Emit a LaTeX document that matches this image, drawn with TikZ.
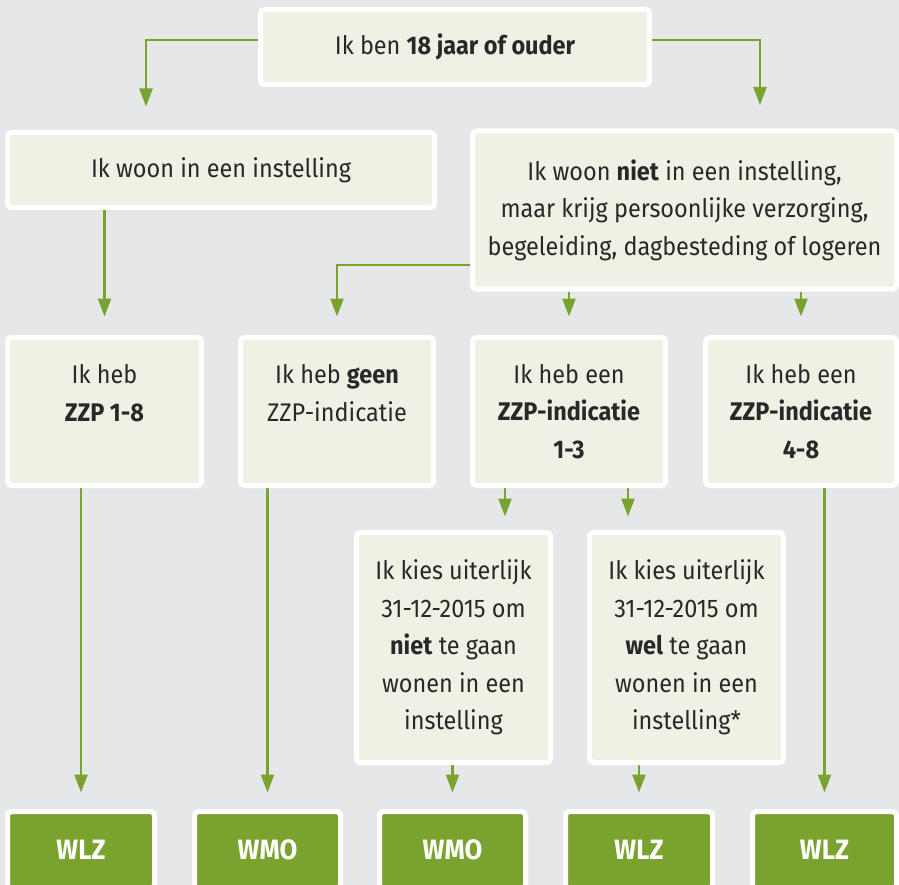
\documentclass[tikz,border=0pt]{standalone}
\usepackage{fontspec}
\setmainfont{Fira Sans}[FakeStretch=0.92]
\usetikzlibrary{arrows.meta}
\definecolor{bgc}{HTML}{E6E7E9}
\definecolor{boxc}{HTML}{EEF1E4}
\definecolor{grn}{HTML}{7AA22F}
\definecolor{txt}{HTML}{2B2728}
\pgfdeclarelayer{bglayer}
\pgfdeclarelayer{connlayer}
\pgfsetlayers{bglayer,connlayer,main}
\begin{document}
\begin{tikzpicture}[x=1pt,y=-1pt,
  box/.style={rectangle, draw=white, line width=5pt, fill=boxc, rounded corners=4pt, inner sep=0pt, align=center, text=txt, font=\fontsize{25.5}{37.5}\selectfont},
  res/.style={box, fill=grn, text=white, font=\fontsize{28}{30}\selectfont\bfseries},
  conn/.style={draw=grn, line width=2.5pt, -{Triangle[width=13pt,length=18pt]}},
]
\useasboundingbox (0,0) rectangle (899,885);
\begin{pgfonlayer}{bglayer}
\fill[bgc] (0,0) rectangle (899,885);
\end{pgfonlayer}

\node[box, minimum width=389pt, minimum height=75pt] (top) at (455,47) {Ik ben \textbf{18 jaar of ouder}};
\node[box, minimum width=427pt, minimum height=75pt] (woon) at (221,170) {Ik woon in een instelling};
\node[box, minimum width=424pt, minimum height=158pt] (niet) at (684.5,210) {Ik woon \textbf{niet} in een instelling,\\maar krijg persoonlijke verzorging,\\begeleiding, dagbesteding of logeren};

\node[box, minimum width=194pt, minimum height=148pt] (A) at (104.5,411.5) {Ik heb\\\textbf{ZZP 1-8}\\\mbox{}};
\node[box, minimum width=193pt, minimum height=148pt] (B) at (337,411.5) {Ik heb \textbf{geen}\\ZZP-indicatie\\\mbox{}};
\node[box, minimum width=193pt, minimum height=148pt] (C) at (569,411.5) {Ik heb een\\\textbf{ZZP-indicatie}\\\textbf{1-3}};
\node[box, minimum width=191pt, minimum height=148pt] (D) at (801,411.5) {Ik heb een\\\textbf{ZZP-indicatie}\\\textbf{4-8}};

\node[box, minimum width=194pt, minimum height=230pt] (E) at (453.5,647.5) {Ik kies uiterlijk\\31-12-2015 om\\\textbf{niet} te gaan\\wonen in een\\instelling};
\node[box, minimum width=194pt, minimum height=230pt] (F) at (686.5,647.5) {Ik kies uiterlijk\\31-12-2015 om\\\textbf{wel} te gaan\\wonen in een\\instelling*};

\node[res, minimum width=147pt, minimum height=77pt] (W1) at (81,850) {WLZ};
\node[res, minimum width=146pt, minimum height=77pt] (W2) at (267.5,850) {WMO};
\node[res, minimum width=146pt, minimum height=77pt] (W3) at (452.5,850) {WMO};
\node[res, minimum width=147pt, minimum height=77pt] (W4) at (639,850) {WLZ};
\node[res, minimum width=144pt, minimum height=77pt] (W5) at (824.5,850) {WLZ};

\begin{pgfonlayer}{connlayer}
\draw[conn, shorten >=23.5pt] (top.west |- 0,40) -| ([xshift=-75pt]woon.north);
\draw[conn, shorten >=23.5pt] (top.east |- 0,40) -| ([xshift=75.5pt]niet.north);
\draw[conn, shorten >=18.5pt] (woon.south -| A.north) -- (A.north);
\draw[conn, shorten >=18.5pt] (niet.west |- 0,265) -| (B.north);
\draw[conn, shorten >=18.5pt] (niet.south -| C.north) -- (C.north);
\draw[conn, shorten >=18.5pt] (niet.south -| D.north) -- (D.north);
\draw[conn, shorten >=16.5pt] (A.south -| W1.north) -- (W1.north);
\draw[conn, shorten >=16.5pt] (B.south -| W2.north) -- (W2.north);
\draw[conn, shorten >=13.5pt] ([xshift=-64pt]C.south) -- ([xshift=-64pt]C.south |- E.north);
\draw[conn, shorten >=13.5pt] ([xshift=59pt]C.south) -- ([xshift=59pt]C.south |- F.north);
\draw[conn, shorten >=16.5pt] (E.south -| W3.north) -- (W3.north);
\draw[conn, shorten >=16.5pt] (F.south -| W4.north) -- (W4.north);
\draw[conn, shorten >=16.5pt] (D.south -| W5.north) -- (W5.north);
\end{pgfonlayer}
\end{tikzpicture}
\end{document}
